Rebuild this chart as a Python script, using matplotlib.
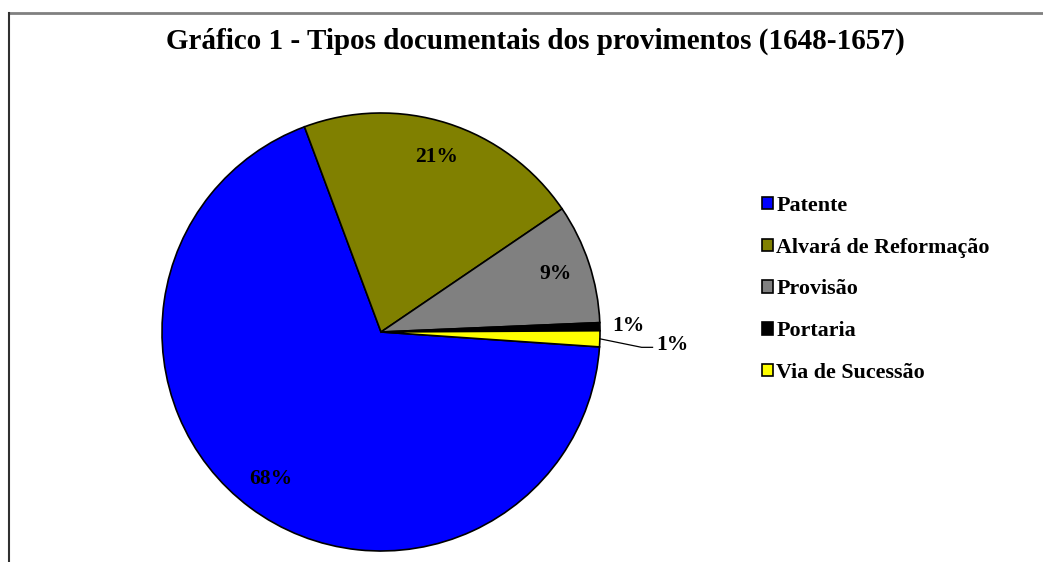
import matplotlib
matplotlib.use("Agg")
import matplotlib.pyplot as plt
import numpy as np
from matplotlib.lines import Line2D

labels = ['Patente', 'Alvará de Reformação', 'Provisão', 'Portaria', 'Via de Sucessão']
counts = [116, 36, 15, 1, 2]
colors = ['#0000ff', '#808000', '#808080', '#000000', '#ffff00']

plt.rcParams['font.family'] = ['Liberation Serif', 'DejaVu Serif']
plt.rcParams['font.weight'] = 'bold'

W, H = 1043, 562
fig = plt.figure(figsize=(W / 100, H / 100), dpi=100)

# pie axes: center (381, 332) px, radius 219 px
cx, cy, r = 381, 332, 219
ax = fig.add_axes([(cx - r) / W, (H - cy - r) / H, 2 * r / W, 2 * r / H])
wedges, _ = ax.pie(counts, colors=colors, startangle=-3.9, counterclock=False,
                   wedgeprops=dict(edgecolor='black', linewidth=1.2))
ax.set_xlim(-1, 1)
ax.set_ylim(-1, 1)
ax.set_aspect('equal')
ax.axis('off')

lab_fs = 15.5
total = sum(counts)
pcts = [f"{round(100 * c / total):d}%" for c in counts]
for i, w in enumerate(wedges):
    mid = np.deg2rad((w.theta1 + w.theta2) / 2)
    if i < 3:
        d = 0.84
        ax.text(d * np.cos(mid), d * np.sin(mid), pcts[i], ha='center', va='center',
                fontsize=lab_fs, fontweight='bold')
    elif i == 3:
        d = 1.13
        ax.text(d * np.cos(mid), d * np.sin(mid), pcts[i], ha='center', va='center',
                fontsize=lab_fs, fontweight='bold', clip_on=False)
    else:
        x0, y0 = np.cos(mid), np.sin(mid)
        ax.plot([x0, 1.19, 1.24], [y0, -0.07, -0.07], color='black', lw=0.9, clip_on=False)
        ax.text(1.255, -0.06, pcts[i], ha='left', va='center',
                fontsize=lab_fs, fontweight='bold', clip_on=False)

fig.text(535 / W, 1 - 41 / H, 'Gráfico 1 - Tipos documentais dos provimentos (1648-1657)',
         ha='center', va='center', fontsize=21, fontweight='bold')

fig.legend(wedges, labels, loc='upper left', bbox_to_anchor=(762 / W, 1 - 196 / H),
           frameon=False, handlelength=0.5, handleheight=0.5,
           handletextpad=0.15, labelspacing=0.99, borderaxespad=0, borderpad=0,
           prop={'weight': 'bold', 'size': 15.8})

# outer frame (only top and left visible)
fig.add_artist(Line2D([9 / W, 1042 / W], [1 - 13 / H, 1 - 13 / H], color='#808080', lw=2,
                      transform=fig.transFigure))
fig.add_artist(Line2D([9 / W, 9 / W], [1 - 13 / H, 0], color='#303030', lw=1.5,
                      transform=fig.transFigure))

fig.savefig('out.png', dpi=100)
